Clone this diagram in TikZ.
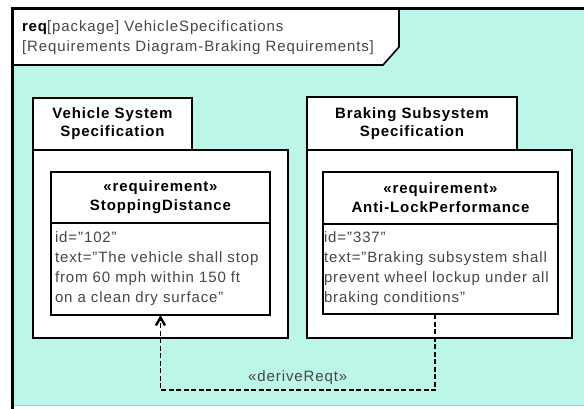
\documentclass[tikz,border=0pt]{standalone}
\usepackage{fontspec}
\setmainfont{Liberation Sans}[LetterSpace=6]
\usepackage{tikz}
\usetikzlibrary{positioning,calc,arrows.meta}
\usepackage{xcolor}

\definecolor{diagramfill}{RGB}{187,246,232}
\definecolor{labelgray}{RGB}{70,70,70}

\begin{document}
\begin{tikzpicture}[x=1pt, y=-1pt,
    every node/.style={inner sep=0pt, outer sep=0pt, font=\fontsize{15}{20}\selectfont},
    pkgtab/.style={draw, fill=white, line width=1.6pt, align=center, font=\fontsize{15}{18}\selectfont\bfseries},
    pkgbody/.style={draw, fill=white, line width=1.6pt},
    reqhead/.style={draw, fill=white, line width=1.6pt, align=center, font=\fontsize{15}{19}\selectfont\bfseries},
    reqbody/.style={draw, fill=white, line width=1.6pt, align=left, text=labelgray, inner xsep=4pt},
    deriveline/.style={line width=1.8pt, dash pattern=on 5pt off 2.5pt, -{Straight Barb[length=8pt,width=9pt,line width=2.4pt]}}]
            \useasboundingbox (0,0) rectangle (584,408);

            % Diagram frame
            \fill[diagramfill] (13,8) rectangle (600,405);
            \draw[gray!50, line width=1pt] (13,405) -- (600,405);
            \draw[line width=3pt] (12.5,420) -- (12.5,8.5) -- (600,8.5);

            % Frame title
            \fill[white] (14,10) -- (399,10) -- (399,47) -- (383,65) -- (14,65) -- cycle;
            \draw[line width=1.6pt] (14,65) -- (383,65) -- (399,47) -- (399,10);
            \node[anchor=west, align=left, text=labelgray] (diagramTitle) at (22,38)
                {{\color{black}\bfseries req}[package] VehicleSpecifications\\{}[Requirements Diagram-Braking Requirements]};

            % Vehicle System Specification
            \node[pkgbody, minimum width=255, minimum height=188, anchor=north west] (vssBody) at (33,150) {};
            \node[pkgtab, minimum width=159, minimum height=52, anchor=north west] (vssTab) at (33,98) {Vehicle System\\Specification};

            \node[reqhead, minimum width=219, minimum height=51, anchor=north west] (sdHead) at (51,172) {«requirement»\\StoppingDistance};
            \node[reqbody, text width=211, minimum height=92, anchor=north west] (sdBody) at (sdHead.south west)
                {id="102"\\text="The vehicle shall stop\\from 60 mph within 150 ft\\on a clean dry surface"};

            % Braking Subsystem Specification
            \node[pkgbody, minimum width=265, minimum height=188, anchor=north west] (bssBody) at (307,150) {};
            \node[pkgtab, minimum width=210, minimum height=53, anchor=north west] (bssTab) at (307,97) {Braking Subsystem\\Specification};

            \node[reqhead, minimum width=235, minimum height=52, anchor=north west] (alpHead) at (323,172) {«requirement»\\Anti-LockPerformance};
            \node[reqbody, inner xsep=1pt, text width=233, minimum height=90, anchor=north west] (alpBody) at (alpHead.south west)
                {id="337"\\text="Braking subsystem shall\\prevent wheel lockup under all\\braking conditions"};

            % deriveReqt
            \coordinate (deriveBase) at (0,390);
            \draw[deriveline] ([xshift=-5.5pt]alpBody.south) |- node[pos=0.75, above=5pt, text=labelgray] {«deriveReqt»}
                (sdBody.south |- deriveBase) -- (sdBody.south);
        \end{tikzpicture}
\end{document}
